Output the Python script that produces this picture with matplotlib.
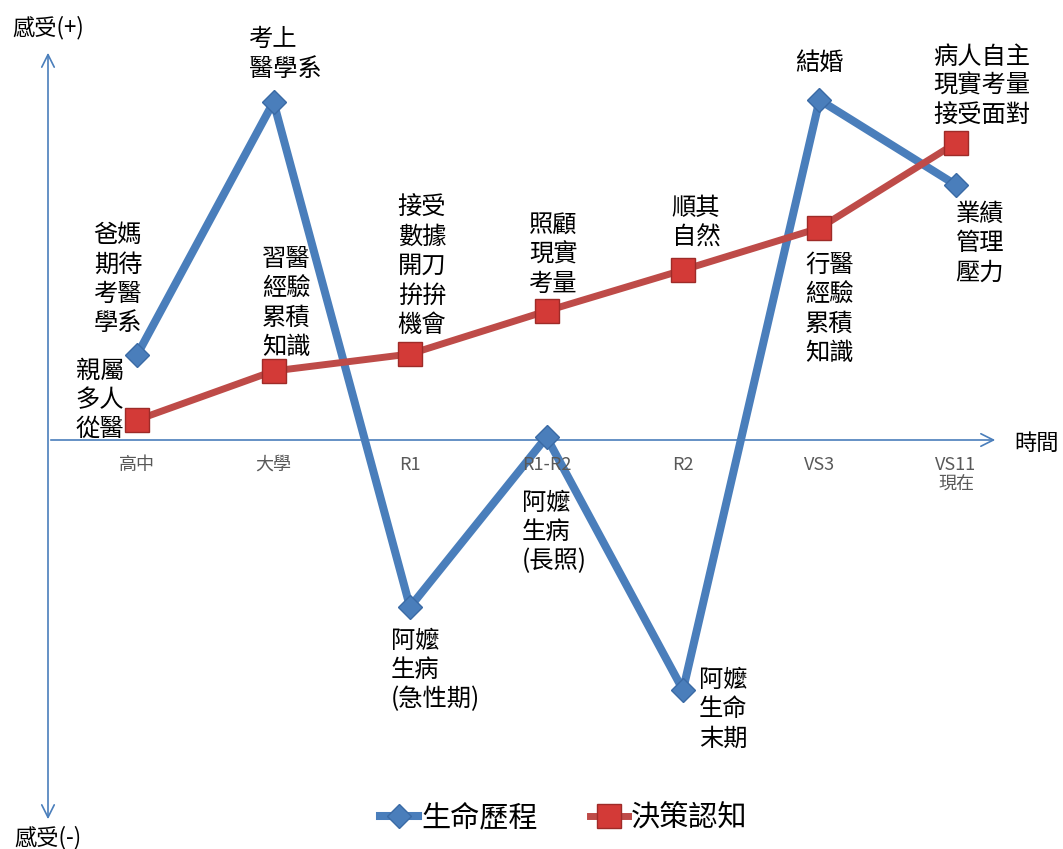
import matplotlib.pyplot as plt
from matplotlib.lines import Line2D

plt.rcParams['font.family'] = ['Noto Sans CJK TC', 'DejaVu Sans']

# ---------- data ----------
stages = ["高中", "大學", "R1", "R1-R2", "R2", "VS3", "VS11\n現在"]
life = [8.5, 33.8, -16.7, 0.3, -25.0, 34.0, 25.5]        # 生命歷程
decision = [2.0, 6.9, 8.6, 12.9, 17.0, 21.2, 29.7]       # 決策認知

life_notes = ["爸媽\n期待\n考醫\n學系", "考上\n醫學系", "阿嬤\n生病\n(急性期)",
              "阿嬤\n生病\n(長照)", "阿嬤\n生命\n末期", "結婚", "業績\n管理\n壓力"]
decision_notes = ["親屬\n多人\n從醫", "習醫\n經驗\n累積\n知識", "接受\n數據\n開刀\n拚拚\n機會",
                  "照顧\n現實\n考量", "順其\n自然", "行醫\n經驗\n累積\n知識",
                  "病人自主\n現實考量\n接受面對"]

# ---------- layout (pixel offsets of the notes, ha) ----------
life_off = [(-19, 76, 'center'), (-25, 48, 'left'), (-19, -63, 'left'),
            (-25, -95, 'left'), (16, -19, 'left'), (0, 37, 'center'), (24, -58, 'center')]
decision_off = [(-37, 20, 'center'), (13, 68, 'center'), (12, 88, 'center'),
                (7, 56, 'center'), (13, 47, 'center'), (10, -81, 'center'), (26, 57, 'center')]

blue = '#4A7EBB'
red = '#BE4B48'
W, H = 1063, 849

fig = plt.figure(figsize=(W / 100, H / 100), dpi=100)
ax = fig.add_axes([0, 0, 1, 1])
ax.set_xlim(-1.004, 6.784)
ax.set_ylim(-40.9, 44.0)
ax.axis('off')

x = list(range(len(stages)))

# axes arrows
ax.annotate('', xy=(48 / W, 1 - 50 / H), xytext=(48 / W, 1 - 822 / H), xycoords='axes fraction',
            arrowprops=dict(arrowstyle='<->,head_length=0.9,head_width=0.45', color=blue, lw=1.2))
trans = ax.get_yaxis_transform()
ax.annotate('', xy=(998 / W, 0), xytext=(48 / W, 0), xycoords=trans, textcoords=trans,
            arrowprops=dict(arrowstyle='->,head_length=0.9,head_width=0.45', color=blue, lw=1.2))

ax.text(48 / W, 1 - 28 / H, "感受(+)", transform=ax.transAxes, ha='center', va='center', fontsize=16)
ax.text(48 / W, 1 - 838 / H, "感受(-)", transform=ax.transAxes, ha='center', va='center', fontsize=16)
ax.text(1037 / W, 1 - 443 / H, "時間", transform=ax.transAxes, ha='center', va='center', fontsize=16)

# category labels under the time axis (drawn above the lines)
for i, s in enumerate(stages):
    ax.annotate(s, xy=(i, 0), xytext=(0, -16), textcoords='offset pixels', ha='center', va='top',
                fontsize=13, color='#595959', linespacing=1.1, zorder=6)

# series
ax.plot(x, life, color=blue, lw=5.8, marker='D', markersize=12,
        markerfacecolor=blue, markeredgecolor='#3A6AA5', markeredgewidth=1, zorder=3)
ax.plot(x, decision, color=red, lw=5.0, marker='s', markersize=17,
        markerfacecolor='#D33A37', markeredgecolor='#9E2B28', markeredgewidth=1, zorder=4)

for i in x:
    dx, dy, ha = life_off[i]
    ax.annotate(life_notes[i], xy=(i, life[i]), xytext=(dx, dy), textcoords='offset pixels',
                ha=ha, va='center', fontsize=17.5, linespacing=1.17, multialignment='left')
    dx, dy, ha = decision_off[i]
    ax.annotate(decision_notes[i], xy=(i, decision[i]), xytext=(dx, dy), textcoords='offset pixels',
                ha=ha, va='center', fontsize=17.5, linespacing=1.17, multialignment='left')

# legend
handles = [Line2D([], [], color=blue, lw=5.8, marker='D', markersize=12,
                  markerfacecolor=blue, markeredgecolor='#3A6AA5'),
           Line2D([], [], color=red, lw=5.0, marker='s', markersize=17,
                  markerfacecolor='#D33A37', markeredgecolor='#9E2B28')]
fig.legend(handles, ["生命歷程", "決策認知"], loc='center', bbox_to_anchor=(564 / W, 1 - 818 / H),
           ncol=2, frameon=False, fontsize=21, handlelength=1.3, handletextpad=0.1, columnspacing=1.8)

fig.savefig("out.png", dpi=100)
